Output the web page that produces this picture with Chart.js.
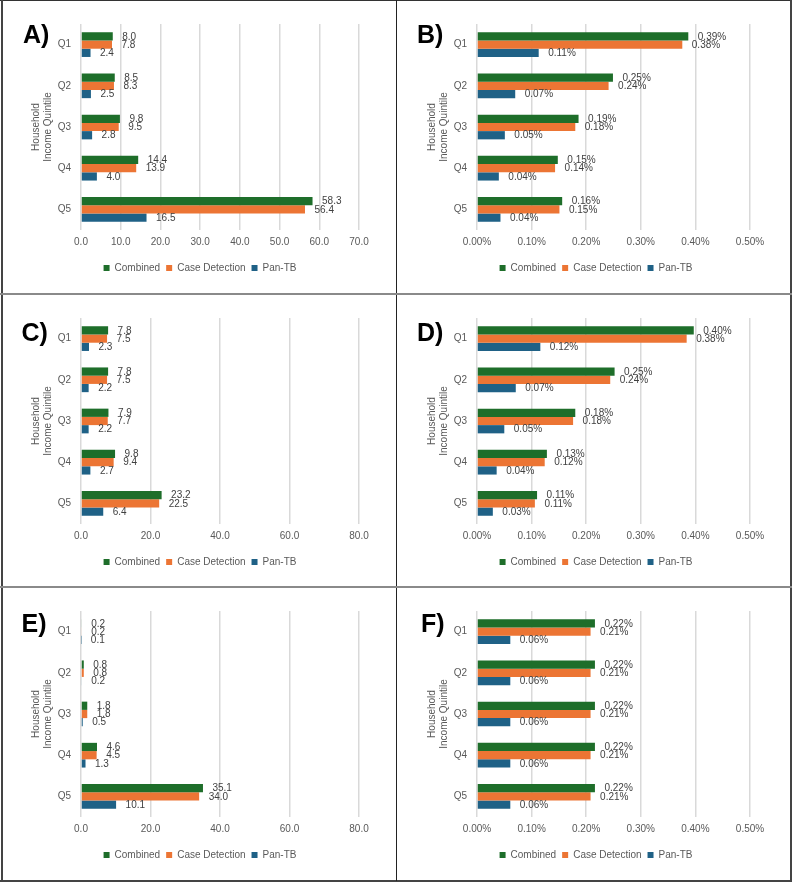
<!DOCTYPE html>
<html>
<head>
<meta charset="utf-8">
<script src="https://cdn.jsdelivr.net/npm/chart.js@4.4.1/dist/chart.umd.min.js"></script>
<style>
  html, body { margin: 0; padding: 0; background: #ffffff; }
  #wrap { position: relative; width: 793px; height: 882px; background: #ffffff; overflow: hidden; }
  canvas { position: absolute; }
  .line { position: absolute; }
  .plabel { position: absolute; font-family: "Liberation Sans", Arial, sans-serif; font-weight: bold; font-size: 25px; line-height: 25px; color: #000; white-space: nowrap; }
</style>
</head>
<body>
<div id="wrap">
  <canvas id="cA" width="396" height="293" style="left:0px;top:0px"></canvas>
  <canvas id="cB" width="397" height="293" style="left:396px;top:0px"></canvas>
  <canvas id="cC" width="396" height="293" style="left:0px;top:294px"></canvas>
  <canvas id="cD" width="397" height="293" style="left:396px;top:294px"></canvas>
  <canvas id="cE" width="396" height="293" style="left:0px;top:587px"></canvas>
  <canvas id="cF" width="397" height="293" style="left:396px;top:587px"></canvas>

  <div class="line" style="left:0;top:0;width:792px;height:1px;background:#333"></div>
  <div class="line" style="left:1px;top:0;width:2px;height:882px;background:#444"></div>
  <div class="line" style="left:790px;top:0;width:2px;height:882px;background:#444"></div>
  <div class="line" style="left:0;top:880px;width:792px;height:2px;background:#444"></div>
  <div class="line" style="left:396px;top:0;width:1px;height:881px;background:#222"></div>
  <div class="line" style="left:0;top:293px;width:792px;height:2px;background:#8a8a8a"></div>
  <div class="line" style="left:0;top:586px;width:792px;height:2px;background:#8a8a8a"></div>

  <div class="plabel" style="left:23px;top:21.7px">A)</div>
  <div class="plabel" style="left:417px;top:21.7px">B)</div>
  <div class="plabel" style="left:21.5px;top:320px">C)</div>
  <div class="plabel" style="left:417px;top:320px">D)</div>
  <div class="plabel" style="left:21.5px;top:611px">E)</div>
  <div class="plabel" style="left:421px;top:611px">F)</div>
</div>
<script>
// ---------- DATA ----------
const quintiles = ['Q1', 'Q2', 'Q3', 'Q4', 'Q5'];
const seriesNames = ['Combined', 'Case Detection', 'Pan-TB'];
const seriesColors = ['#1e6e2a', '#ec7534', '#1f6186'];
const yTitle = ['Household', 'Income Quintile'];

// Panel A
const aCombined = [8.0, 8.5, 9.8, 14.4, 58.3];
const aCaseDetection = [7.8, 8.3, 9.5, 13.9, 56.4];
const aPanTB = [2.4, 2.5, 2.8, 4.0, 16.5];
const aTicks = [0, 10, 20, 30, 40, 50, 60, 70];

// Panel B (percent)
const bCombined = [0.387, 0.249, 0.186, 0.148, 0.156];
const bCaseDetection = [0.376, 0.241, 0.180, 0.143, 0.151];
const bPanTB = [0.113, 0.070, 0.051, 0.040, 0.043];
const pctTicks = [0, 0.1, 0.2, 0.3, 0.4, 0.5];

// Panel C
const cCombined = [7.8, 7.8, 7.9, 9.8, 23.2];
const cCaseDetection = [7.5, 7.5, 7.7, 9.4, 22.5];
const cPanTB = [2.3, 2.2, 2.2, 2.7, 6.4];
const ceTicks = [0, 20, 40, 60, 80];

// Panel D (percent)
const dCombined = [0.397, 0.252, 0.180, 0.128, 0.110];
const dCaseDetection = [0.384, 0.244, 0.176, 0.124, 0.106];
const dPanTB = [0.116, 0.071, 0.050, 0.036, 0.029];

// Panel E
const eCombined = [0.2, 0.8, 1.8, 4.6, 35.1];
const eCaseDetection = [0.2, 0.8, 1.8, 4.5, 34.0];
const ePanTB = [0.1, 0.2, 0.5, 1.3, 10.1];

// Panel F (percent)
const fCombined = [0.216, 0.216, 0.216, 0.216, 0.216];
const fCaseDetection = [0.208, 0.208, 0.208, 0.208, 0.208];
const fPanTB = [0.061, 0.061, 0.061, 0.061, 0.061];

// ---------- CHARTS ----------
const FONT = '"Liberation Sans", Arial, Helvetica, sans-serif';
Chart.defaults.font.family = FONT;
Chart.defaults.font.size = 10;
Chart.defaults.color = '#595959';

const fmtNum = v => Number(v).toFixed(1);
const fmtPct = v => Number(v).toFixed(2) + '%';

const valueLabels = {
  id: 'valueLabels',
  afterDatasetsDraw(chart, args, opts) {
    const ctx = chart.ctx;
    ctx.save();
    ctx.font = '10px ' + FONT;
    ctx.fillStyle = '#404040';
    ctx.textAlign = 'left';
    ctx.textBaseline = 'middle';
    chart.data.datasets.forEach((ds, i) => {
      const meta = chart.getDatasetMeta(i);
      meta.data.forEach((bar, j) => {
        ctx.fillText(opts.format(ds.data[j]), bar.x + 9.5, bar.y + 0.5);
      });
    });
    ctx.restore();
  }
};

function makeChart(id, series, ticks, fmt, isRight) {
  const padL = isRight ? 46 : 41;
  const padR = isRight ? 43 : 37;
  const yWidth = 81 - padL;
  const titlePadTop = 36.7 - padL - 5.8;
  const tickSet = ticks.slice();
  const step = ticks[1] - ticks[0];
  return new Chart(document.getElementById(id), {
    type: 'bar',
    data: {
      labels: quintiles,
      datasets: series.map((d, i) => ({
        label: seriesNames[i],
        data: d,
        backgroundColor: seriesColors[i],
        borderWidth: 0,
        categoryPercentage: 0.6,
        barPercentage: 1.0
      }))
    },
    options: {
      indexAxis: 'y',
      responsive: false,
      maintainAspectRatio: false,
      animation: false,
      layout: { padding: { left: padL, right: padR, top: 24, bottom: 10 } },
      scales: {
        x: {
          min: ticks[0],
          max: ticks[ticks.length - 1],
          afterBuildTicks: (scale) => { scale.ticks = tickSet.map(v => ({ value: v })); },
          ticks: {
            stepSize: step,
            padding: 6,
            color: '#595959',
            font: { size: 10 },
            callback: (v) => fmt(v)
          },
          grid: { display: true, color: '#d9d9d9', lineWidth: 1.5, drawTicks: false },
          border: { display: false },
          afterFit: (scale) => { scale.height = 27; }
        },
        y: {
          ticks: { padding: 10, color: '#595959', font: { size: 10 } },
          grid: { display: false, drawTicks: false },
          border: { display: false },
          title: {
            display: true,
            text: yTitle,
            color: '#595959',
            font: { size: 10, lineHeight: 1.16 },
            padding: { top: titlePadTop, bottom: 0 }
          },
          afterFit: (scale) => { scale.width = yWidth; }
        }
      },
      plugins: {
        legend: {
          display: true,
          position: 'bottom',
          labels: {
            boxWidth: 6,
            boxHeight: 6,
            padding: 6,
            color: '#595959',
            font: { size: 10 }
          }
        },
        tooltip: { enabled: false },
        valueLabels: { format: fmt }
      }
    },
    plugins: [valueLabels]
  });
}

makeChart('cA', [aCombined, aCaseDetection, aPanTB], aTicks, fmtNum, false);
makeChart('cB', [bCombined, bCaseDetection, bPanTB], pctTicks, fmtPct, true);
makeChart('cC', [cCombined, cCaseDetection, cPanTB], ceTicks, fmtNum, false);
makeChart('cD', [dCombined, dCaseDetection, dPanTB], pctTicks, fmtPct, true);
makeChart('cE', [eCombined, eCaseDetection, ePanTB], ceTicks, fmtNum, false);
makeChart('cF', [fCombined, fCaseDetection, fPanTB], pctTicks, fmtPct, true);
</script>
</body>
</html>
